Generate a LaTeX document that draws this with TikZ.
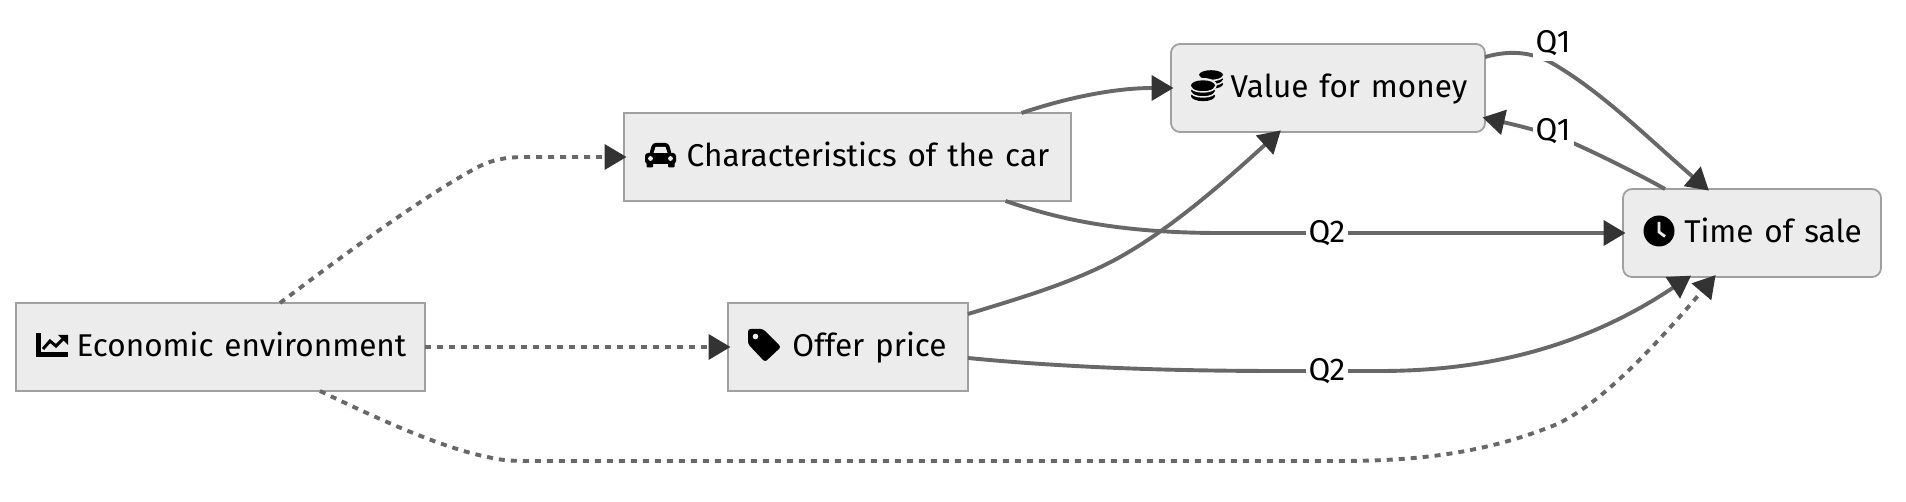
\documentclass[tikz,border=0pt]{standalone}
\usepackage{fontspec}
\setmainfont[WordSpace=1.3]{Fira Sans}
\usetikzlibrary{arrows.meta,calc}
\definecolor{boxfill}{HTML}{ECECEC}
\definecolor{boxline}{HTML}{A0A0A0}
\definecolor{edgeline}{HTML}{686868}
\definecolor{tipfill}{HTML}{333333}
\tikzset{
 box/.style={draw=boxline,fill=boxfill,line width=1.8pt,outer sep=0pt,minimum height=88pt,inner sep=0pt,text height=22pt,text depth=2pt,anchor=center,font=\fontsize{31.5}{36}\selectfont},
 rbox/.style={box,rounded corners=9pt},
 flow/.style={draw=edgeline,line width=3.9pt,shorten >=-2.5pt,-{Triangle[length=22pt,width=25pt,color=tipfill,fill=tipfill]}},
 dflow/.style={flow,dash pattern=on 6pt off 6pt},
 qlabel/.style={fill=white,inner xsep=3pt,inner ysep=6pt,font=\fontsize{31.5}{36}\selectfont,text height=22pt,text depth=2pt},
 ico/.style={fill=black,draw=none},
 sep/.style={draw=boxfill,line width=1.5pt}
}
\begin{document}
\begin{tikzpicture}[x=1pt,y=-1pt]
\useasboundingbox (0,0) rectangle (1906,502);
\node[box,minimum width=409pt] (eco) at (220.5,347) {\hspace*{42pt}Economic environment};
\node[box,minimum width=447pt] (car) at (847.5,157) {\hspace*{41pt}Characteristics of the car};
\node[box,minimum width=240pt] (off) at (848,347) {\hspace*{43pt}Offer price};
\node[rbox,minimum width=314pt] (val) at (1328,88) {\hspace*{42pt}Value for money};
\node[rbox,minimum width=258pt] (tim) at (1752,233) {\hspace*{42pt}Time of sale};
% connectors
\draw[dflow] ([xshift=59.5pt]eco.north) .. controls (350,250) and (430,192) .. (480,166) .. controls (497,158) and (510,157) .. (530,157) -- (car.west);
\draw[dflow] (eco.east) -- (off.west);
\draw[dflow] ([xshift=99.5pt]eco.south) .. controls (370,415) and (440,448) .. (490,457.5) .. controls (500,460) and (510,461) .. (530,461) -- (1340,461) .. controls (1430,461) and (1490,450) .. (1550,427) .. controls (1595,409.75) and (1650,352) .. ([xshift=-38pt]tim.south);
\draw[flow] ([xshift=174pt]car.north) .. controls (1060,100) and (1110,88) .. (val.west);
\draw[flow] ([xshift=158pt]car.south) .. controls (1050,216) and (1110,233) .. (1220,233) -- (tim.west);
\draw[flow] ([yshift=-11pt]off.north east) .. controls (1020,298) and (1080,281) .. (1127,253) .. controls (1180,222) and (1235,172) .. ([xshift=-49pt]val.south);
\draw[flow] ([yshift=-11pt]off.east) .. controls (1050,366) and (1150,371) .. (1280,371) -- (1380,371) .. controls (1480,371) and (1580,350) .. ([xshift=-63pt]tim.south);
\draw[flow] ([yshift=31pt]val.east) .. controls (1510,50) and (1530,52) .. (1550,62) .. controls (1600,90) and (1650,140) .. ([xshift=-45pt]tim.north);
\draw[flow] ([xshift=-87pt]tim.north) .. controls (1640,175) and (1600,155) .. (1573,143) .. controls (1545,132) and (1520,126) .. ([yshift=-30pt]val.east);
% labels
\node[qlabel] (q1a) at (1553,43) {Q1};
\node[qlabel] (q1b) at (1553,131) {Q1};
\node[qlabel] (q2a) at (1327,233) {Q2};
\node[qlabel] (q2b) at (1327,371) {Q2};
% icons: chart line
\fill[ico] (36,333) rectangle (40.5,357);
\fill[ico] (36,352.5) rectangle (68,357);
\draw[black,line width=3pt] (43,349) -- (50,341) -- (56,346) -- (63,339);
\fill[ico] (58,335) -- (68,335) -- (68,345) -- cycle;
% car
\fill[ico,rounded corners=3pt] (645,153) rectangle (676,164);
\fill[ico,rounded corners=3pt] (649,155) -- (652.5,143) -- (668.5,143) -- (672,155) -- cycle;
\fill[boxfill] (653.5,153) -- (655.5,147) -- (665.5,147) -- (667.5,153) -- cycle;
\fill[ico,rounded corners=1pt] (646.5,160) rectangle (653,167.5);
\fill[ico,rounded corners=1pt] (668,160) rectangle (674.5,167.5);
\fill[boxfill] (650.5,158.5) circle (2.4pt);
\fill[boxfill] (670.5,158.5) circle (2.4pt);
% tag
\fill[ico,rounded corners=2.5pt] (748,329) -- (763,329) -- (781,347) -- (765,362) -- (748,344) -- cycle;
\fill[boxfill] (755.5,336.5) circle (2.8pt);
% coins: back stack
\fill[ico] (1211,75) ellipse (12pt and 4.8pt);
\fill[ico] (1211,79.5) ellipse (12pt and 4.8pt);
\fill[ico] (1211,84) ellipse (12pt and 4.8pt);
\draw[sep] (1199,76) arc[start angle=180,end angle=360,x radius=12pt,y radius=4.5pt];
\draw[sep] (1199,80.5) arc[start angle=180,end angle=360,x radius=12pt,y radius=4.5pt];
% coins: front stack
\fill[boxfill] (1203,85) ellipse (14pt and 7pt);
\fill[ico] (1203,85.5) ellipse (12pt and 5.2pt);
\fill[ico] (1203,91) ellipse (12pt and 5.2pt);
\fill[ico] (1203,96) ellipse (12pt and 5.2pt);
\draw[sep] (1191,87) arc[start angle=180,end angle=360,x radius=12pt,y radius=5pt];
\draw[sep] (1191,92) arc[start angle=180,end angle=360,x radius=12pt,y radius=5pt];
% clock
\fill[ico] (1659,231) circle (15.5pt);
\draw[boxfill,line width=2.8pt] (1659,222) -- (1659,232) -- (1665,236.5);
\end{tikzpicture}
\end{document}
